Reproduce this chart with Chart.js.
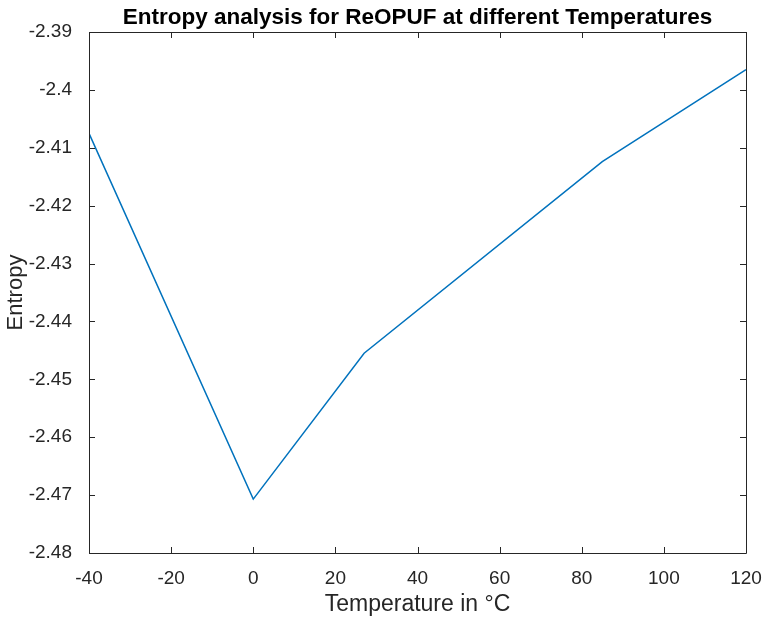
<!DOCTYPE html>
<html>
<head>
<meta charset="utf-8">
<script src="https://cdn.jsdelivr.net/npm/chart.js@4"></script>
<style>
html,body{margin:0;padding:0;background:#fff;}
#box{width:763px;height:621px;}
</style>
</head>
<body>
<div id="box"><canvas id="grafico"></canvas></div>
<script>
// Datos
const temperaturas = [-40, 0, 27, 85, 120];
const entropia = [-2.4075, -2.4707, -2.4455, -2.4124, -2.3965];
const ticksX = [-40, -20, 0, 20, 40, 60, 80, 100, 120];
const ticksY = [-2.48, -2.47, -2.46, -2.45, -2.44, -2.43, -2.42, -2.41, -2.4, -2.39];

const colorEje = "#262626";
const fuente = "'Liberation Sans', Arial, sans-serif";

// Caja con ticks hacia dentro (estilo MATLAB)
const cajaMatlab = {
  id: "cajaMatlab",
  afterDatasetsDraw(chart){
    const ctx = chart.ctx;
    const a = chart.chartArea;
    const sx = chart.scales.x, sy = chart.scales.y;
    const largo = 6;
    ctx.save();
    ctx.strokeStyle = colorEje;
    ctx.lineWidth = 1;
    ctx.beginPath();
    ctx.rect(a.left + 0.5, a.top + 0.5, a.right - a.left, a.bottom - a.top);
    ticksX.forEach(v => {
      let px = Math.round(sx.getPixelForValue(v)) + 0.5;
      ctx.moveTo(px, a.bottom); ctx.lineTo(px, a.bottom - largo);
      ctx.moveTo(px, a.top); ctx.lineTo(px, a.top + largo);
    });
    ticksY.forEach(v => {
      let py = Math.round(sy.getPixelForValue(v)) + 0.5;
      ctx.moveTo(a.left, py); ctx.lineTo(a.left + largo, py);
      ctx.moveTo(a.right, py); ctx.lineTo(a.right - largo, py);
    });
    ctx.stroke();
    ctx.restore();
  }
};

new Chart(document.getElementById("grafico"), {
  type: "line",
  data: {
    datasets: [{
      data: temperaturas.map((t, i) => ({x: t, y: entropia[i]})),
      borderColor: "#0072BD",
      borderWidth: 1.5,
      pointRadius: 0,
      tension: 0,
      fill: false
    }]
  },
  options: {
    responsive: true,
    maintainAspectRatio: false,
    animation: false,
    layout: {padding: {left: 0, right: 17, top: 0, bottom: 0}},
    plugins: {
      legend: {display: false},
      tooltip: {enabled: false},
      title: {
        display: true,
        fullSize: false,
        text: "Entropy analysis for ReOPUF at different Temperatures",
        color: "#000",
        font: {family: fuente, size: 22.5, weight: "bold"},
        padding: {top: 4, bottom: 1}
      }
    },
    scales: {
      x: {
        type: "linear",
        min: -40, max: 120,
        afterBuildTicks: s => { s.ticks = ticksX.map(v => ({value: v})); },
        afterFit: s => { s.height = 68; s.paddingLeft = 0; s.paddingRight = 0; },
        grid: {display: false},
        border: {display: false},
        ticks: {color: colorEje, font: {family: fuente, size: 19}, padding: 6, maxRotation: 0},
        title: {display: true, text: "Temperature in \u00B0C", color: colorEje,
          font: {family: fuente, size: 23}, padding: {top: 4, bottom: 3}}
      },
      y: {
        type: "linear",
        min: -2.48, max: -2.39,
        afterBuildTicks: s => { s.ticks = ticksY.map(v => ({value: v})); },
        afterFit: s => { s.width = 89; },
        grid: {display: false},
        border: {display: false},
        ticks: {color: colorEje, font: {family: fuente, size: 19}, padding: 9,
          callback: v => parseFloat(v.toFixed(2)).toString()},
        title: {display: true, text: "Entropy", color: colorEje,
          font: {family: fuente, size: 22}, padding: {top: 3, bottom: 2}}
      }
    }
  },
  plugins: [cajaMatlab]
});
</script>
</body>
</html>
